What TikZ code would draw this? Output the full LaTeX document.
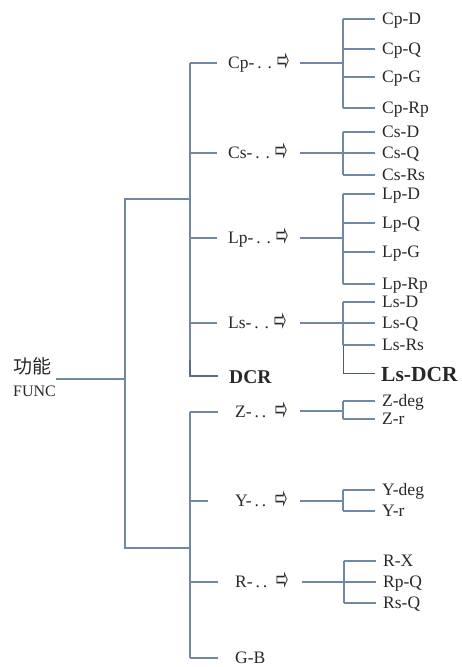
\documentclass[tikz,border=0pt]{standalone}
\usepackage{fontspec}
\usepackage{graphicx}
\setmainfont{Liberation Serif}
\newfontfamily\cjkfont{Noto Sans CJK SC}
\newfontfamily\arrfont{DejaVu Sans}
\newcommand{\arr}{{\arrfont\raisebox{-2.5pt}{\scalebox{0.85}[1.9]{⇨}}}}
\definecolor{lncol}{RGB}{112,136,165}
\definecolor{txtcol}{RGB}{40,40,40}
\tikzset{
  ln/.style={draw=lncol, line width=1.3pt},
  thinln/.style={draw=lncol!70!black, line width=0.7pt},
  thickln/.style={draw=lncol!80!black, line width=2.2pt},
  lbl/.style={anchor=west, inner sep=0pt, text=txtcol, font=\fontsize{17.5}{20}\selectfont, text height=11.5pt, text depth=0pt},
  big/.style={lbl, font=\fontsize{19.5}{22}\selectfont\bfseries, text height=13pt},
  bigger/.style={lbl, font=\fontsize{21.5}{24}\selectfont\bfseries, text height=14pt},
}
\begin{document}
\begin{tikzpicture}[x=1pt, y=-1pt]
\useasboundingbox (0,0) rectangle (461,667);
% root
\node[anchor=west, inner sep=0pt, font=\cjkfont\fontsize{19}{22}\selectfont, text=txtcol] (cn) at (13,366) {功能};
\node[lbl, font=\fontsize{16}{18}\selectfont] (func) at (13,391) {FUNC};
\coordinate (froot) at (56,379);
\coordinate (spine) at (125,379);
\draw[ln] (froot) -- (spine);
\draw[ln] (190,199) -| (125,548) -- (190,548);

% upper group spine
\draw[ln] (190,63) -- (190,375);
% rows
\foreach \y/\t/\n in {63/Cp/cp,153/Cs/cs,238/Lp/lp,323/Ls/ls}{
  \draw[ln] (190,\y) -- (217,\y);
  \node[lbl] (\n) at (228,\y) {\t-\,.\,\,.\,\,\arr};
  \draw[ln] (300,\y) -- (343,\y);
}
\draw[thickln] (190,360) -- (190,376) -- (218,376);
\node[big] (dcr) at (229,377) {DCR};

% lower group spine
\draw[ln] (190,412) -- (190,658);
\draw[ln] (190,412) -- (218,412);
\draw[ln] (190,501) -- (208,501);
\draw[ln] (190,582) -- (218,582);
\draw[ln] (190,658) -- (218,658);
\node[lbl] (z) at (235,412) {Z-\,.\,.\ \ \arr};
\node[lbl] (yy) at (235,501) {Y-\,.\,.\ \ \arr};
\node[lbl] (r) at (235,582) {R-\,.\,.\ \ \arr};
\node[lbl] (gb) at (235,658) {G-B};
\draw[ln] (300,411) -- (343,411);
\draw[ln] (300,501) -- (343,501);
\draw[ln] (302,582) -- (344,582);

% Cp
\draw[ln] (343,19) -- (343,108);
\foreach \y/\t in {19/Cp-D,49/Cp-Q,77/Cp-G,108/Cp-Rp}{
  \draw[ln] (343,\y) -- (375,\y);
  \node[lbl] at (382,\y) {\t};
}
% Cs
\draw[ln] (343,132) -- (343,175);
\foreach \y/\t in {132/Cs-D,153/Cs-Q,175/Cs-Rs}{
  \draw[ln] (343,\y) -- (375,\y);
  \node[lbl] at (382,\y) {\t};
}
% Lp
\draw[ln] (343,194) -- (343,284);
\foreach \y/\t in {194/Lp-D,223/Lp-Q,252/Lp-G,284/Lp-Rp}{
  \draw[ln] (343,\y) -- (375,\y);
  \node[lbl] at (382,\y) {\t};
}
% Ls
\draw[ln] (343,302) -- (343,345);
\foreach \y/\t in {302/Ls-D,323/Ls-Q,345/Ls-Rs}{
  \draw[ln] (343,\y) -- (375,\y);
  \node[lbl] at (382,\y) {\t};
}
\draw[thinln] (343,345) -- (343,373) -- (375,373);
\node[bigger] (lsdcr) at (381,374) {Ls-DCR};
% Z
\draw[ln] (343,401) -- (343,419);
\foreach \y/\t in {401/Z-deg,419/Z-r}{
  \draw[ln] (343,\y) -- (375,\y);
  \node[lbl] at (382,\y) {\t};
}
% Y
\draw[ln] (343,490) -- (343,511);
\foreach \y/\t in {490/Y-deg,511/Y-r}{
  \draw[ln] (343,\y) -- (375,\y);
  \node[lbl] at (382,\y) {\t};
}
% R
\draw[ln] (344,561) -- (344,603);
\foreach \y/\t in {561/R-X,582/Rp-Q,603/Rs-Q}{
  \draw[ln] (344,\y) -- (376,\y);
  \node[lbl] at (383,\y) {\t};
}
\end{tikzpicture}
\end{document}
